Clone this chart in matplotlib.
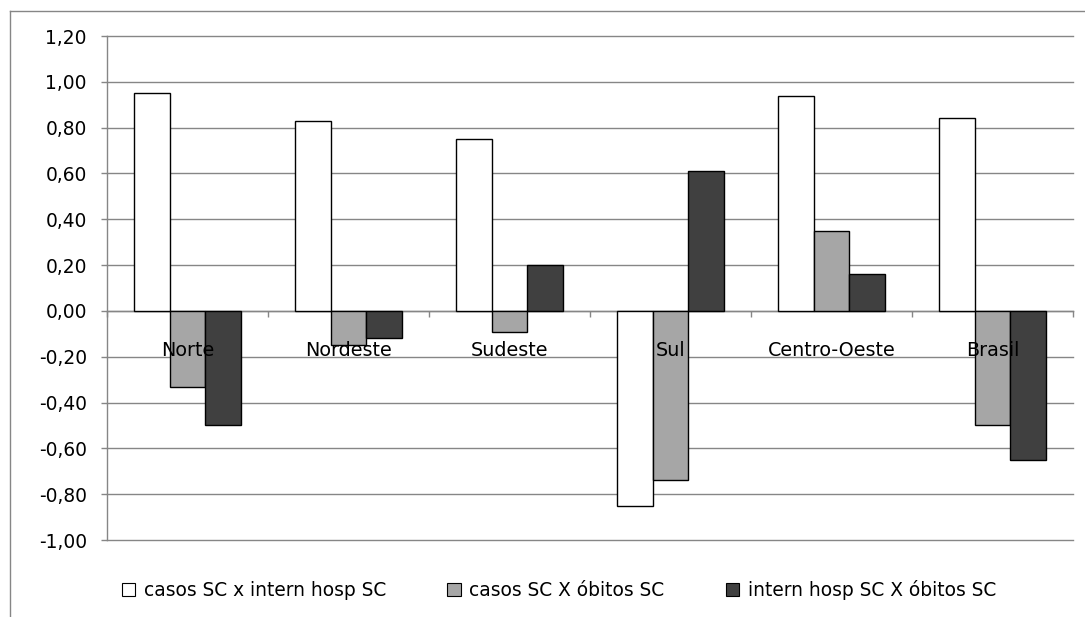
import matplotlib
matplotlib.use("Agg")
import matplotlib.pyplot as plt
from matplotlib.patches import Patch
from matplotlib.lines import Line2D
import numpy as np

# Correlation coefficients by region
regions = ["Norte", "Nordeste", "Sudeste", "Sul", "Centro-Oeste", "Brasil"]
series_names = [
    "casos SC x intern hosp SC",
    "casos SC X óbitos SC",
    "intern hosp SC X óbitos SC",
]
casos_x_intern = [0.95, 0.83, 0.75, -0.85, 0.94, 0.84]
casos_x_obitos = [-0.33, -0.15, -0.09, -0.74, 0.35, -0.50]
intern_x_obitos = [-0.50, -0.12, 0.20, 0.61, 0.16, -0.65]
y_ticks = [-1.0, -0.8, -0.6, -0.4, -0.2, 0.0, 0.2, 0.4, 0.6, 0.8, 1.0, 1.2]

fill_colors = ["#ffffff", "#a6a6a6", "#404040"]
gray = "#868686"
fs = 13.4

plt.rcParams["font.family"] = ["DejaVu Sans"]

W, H, DPI = 1085, 617, 100
fig = plt.figure(figsize=(W / DPI, H / DPI), dpi=DPI)
ax = fig.add_axes([107 / W, 1 - 540 / H, (1073 - 107) / W, (540 - 36) / H])

x = np.arange(len(regions))
bar_w = 1 / 4.5  # three bars plus a 150% gap per category
series = [casos_x_intern, casos_x_obitos, intern_x_obitos]
for k, (vals, col, name) in enumerate(zip(series, fill_colors, series_names)):
    ax.bar(x + (k - 1) * bar_w, vals, bar_w, color=col, edgecolor="black",
           linewidth=1.0, label=name, zorder=3)

ax.set_xlim(-0.5, len(regions) - 0.5)
ax.set_ylim(-1.0, 1.2)

ax.set_yticks(y_ticks)
ax.set_yticklabels([f"{v:.2f}".replace(".", ",").replace("-0,00", "0,00") for v in y_ticks])
ax.yaxis.grid(True, color=gray, linewidth=1.0)
for gl in ax.get_ygridlines():
    gl.set_clip_on(False)
ax.set_axisbelow(True)

ax.spines["top"].set_visible(False)
ax.spines["right"].set_visible(False)
ax.spines["bottom"].set_position(("data", 0))
for s in ("bottom", "left"):
    ax.spines[s].set_color(gray)
    ax.spines[s].set_linewidth(1.0)

ax.set_xticks(np.arange(-0.5, len(regions), 1.0))
ax.set_xticklabels([])
ax.tick_params(axis="x", direction="out", length=4.5, width=1.0, color=gray)
ax.tick_params(axis="y", direction="out", length=4.5, width=1.0, color=gray,
               pad=10.0, labelsize=fs)

# Category names sit just under the zero line, on top of the bars
for i, name in enumerate(regions):
    ax.annotate(name, xy=(i, 0), xycoords="data", xytext=(0, -32.4),
                textcoords="offset points", ha="center", va="baseline",
                fontsize=fs + 0.4, zorder=6, annotation_clip=False)

# Outer chart frame (top and left edges)
fig.add_artist(Line2D([10 / W, 1.0], [1 - 11 / H, 1 - 11 / H],
                      transform=fig.transFigure, color=gray, linewidth=1.0))
fig.add_artist(Line2D([10 / W, 10 / W], [0.0, 1 - 11 / H],
                      transform=fig.transFigure, color=gray, linewidth=1.0))

handles = [Patch(facecolor=c, edgecolor="black", linewidth=0.8) for c in fill_colors]
fig.legend(handles, series_names, loc="center", bbox_to_anchor=(559 / W, 1 - 590 / H),
           ncol=3, frameon=False, fontsize=fs, handlelength=0.72, handleheight=0.72,
           handletextpad=0.45, columnspacing=3.3)

fig.savefig("out.png", dpi=DPI)
